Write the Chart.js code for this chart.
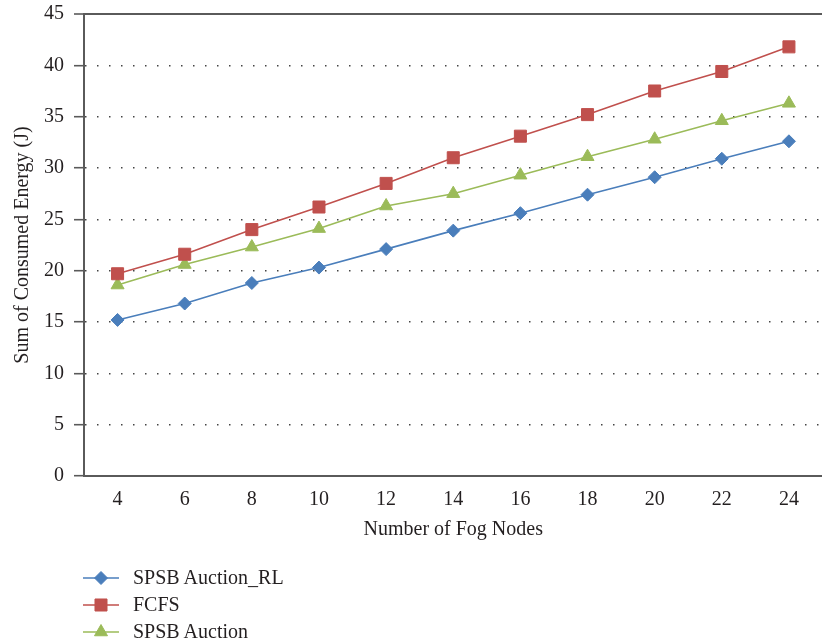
<!DOCTYPE html>
<html>
<head>
<meta charset="utf-8">
<title>Sum of Consumed Energy vs Number of Fog Nodes</title>
<script src="https://cdn.jsdelivr.net/npm/chart.js@4/dist/chart.umd.min.js"></script>
<style>
  html, body { margin: 0; padding: 0; background: #ffffff; overflow: hidden; }
  #wrap { position: relative; width: 822px; height: 644px; overflow: hidden; }
  #plot { position: absolute; left: 0; top: 0; }
  #legend { position: absolute; left: 83px; top: 564px; font-family: "Liberation Serif", "Times New Roman", serif; font-size: 20px; color: #231f20; }
  .item { display: flex; align-items: center; height: 27px; }
  .item canvas { width: 36px; height: 16px; margin-right: 14px; }
</style>
</head>
<body>
<div id="wrap">
  <canvas id="plot" width="832" height="560"></canvas>
  <div id="legend"></div>
</div>
<script>
// Number of fog nodes (x categories)
const nodeCounts = ['4', '6', '8', '10', '12', '14', '16', '18', '20', '22', '24'];

// Sum of consumed energy (J) per scheduling scheme
const rlEnergy      = [15.2, 16.8, 18.8, 20.3, 22.1, 23.9, 25.6, 27.4, 29.1, 30.9, 32.6];
const fcfsEnergy    = [19.7, 21.6, 24.0, 26.2, 28.5, 31.0, 33.1, 35.2, 37.5, 39.4, 41.8];
const auctionEnergy = [18.6, 20.6, 22.3, 24.1, 26.3, 27.5, 29.3, 31.1, 32.8, 34.6, 36.3];

// Series names
const seriesNames = ['SPSB Auction_RL', 'FCFS', 'SPSB Auction'];

// Y axis range
const yMin = 0, yMax = 45, yStep = 5;

const AXIS = '#5a5a5a';
const TEXT = '#231f20';
const FONT = '"Liberation Serif", "Times New Roman", serif';

const series = [
  { label: seriesNames[0], data: rlEnergy,      color: '#4a7ebb', style: 'rectRot',  radius: 6.5 },
  { label: seriesNames[1], data: fcfsEnergy,    color: '#c0504d', style: 'rect',     radius: 8.5 },
  { label: seriesNames[2], data: auctionEnergy, color: '#9bbb59', style: 'triangle', radius: 7.5 }
];

const chart = new Chart(document.getElementById('plot'), {
  type: 'line',
  data: {
    labels: nodeCounts,
    datasets: series.map(s => ({
      label: s.label,
      data: s.data,
      borderColor: s.color,
      backgroundColor: s.color,
      borderWidth: 1.6,
      pointStyle: s.style,
      pointRadius: s.radius,
      pointBorderWidth: 1,
      pointBackgroundColor: s.color,
      pointBorderColor: s.color,
      tension: 0,
      fill: false
    }))
  },
  options: {
    responsive: false,
    animation: false,
    layout: { padding: { left: 0, top: 14, right: 0, bottom: 17 } },
    plugins: {
      legend: { display: false },
      tooltip: { enabled: false }
    },
    scales: {
      x: {
        type: 'category',
        offset: true,
        grid: { display: false, drawTicks: false },
        border: { display: true, color: AXIS, width: 2 },
        ticks: { color: TEXT, font: { family: FONT, size: 20 }, padding: 12, maxRotation: 0 },
        title: {
          display: true, text: 'Number of Fog Nodes', color: TEXT,
          font: { family: FONT, size: 20 }, padding: { top: 0, bottom: 1 }
        },
        afterFit: (scale) => { scale.height = 67; scale.paddingLeft = 0; scale.paddingRight = 0; }
      },
      y: {
        min: yMin, max: yMax,
        ticks: { stepSize: yStep, color: TEXT, font: { family: FONT, size: 20 }, padding: 10 },
        grid: {
          drawTicks: true,
          tickLength: 10,
          tickColor: AXIS,
          tickWidth: 1.6,
          color: (c) => {
            if (!c.tick) return AXIS;
            if (c.tick.value === yMax) return AXIS;
            if (c.tick.value === yMin) return 'rgba(0,0,0,0)';
            return '#444444';
          },
          lineWidth: (c) => (c.tick && c.tick.value === yMax) ? 2 : 1.4
        },
        border: {
          display: true, color: AXIS, width: 2,
          dash: (c) => (c.tick && c.tick.value !== yMax) ? [1.5, 10.5] : []
        },
        title: {
          display: true, text: 'Sum of Consumed Energy (J)', color: TEXT,
          font: { family: FONT, size: 20 }, padding: { top: 11, bottom: 0 }
        },
        afterFit: (scale) => { scale.width = 84; scale.paddingTop = 0; scale.paddingBottom = 0; }
      }
    }
  }
});

// Legend: one row per series, sample line with its marker, then the name
(function buildLegend() {
  const host = document.getElementById('legend');
  chart.data.datasets.forEach((ds) => {
    const row = document.createElement('div');
    row.className = 'item';
    const c = document.createElement('canvas');
    c.width = 36; c.height = 16;
    const g = c.getContext('2d');
    g.strokeStyle = ds.borderColor;
    g.lineWidth = 1.6;
    g.beginPath(); g.moveTo(0, 8); g.lineTo(36, 8); g.stroke();
    g.fillStyle = ds.pointBackgroundColor;
    g.strokeStyle = ds.pointBorderColor;
    g.lineWidth = 1;
    Chart.helpers.drawPoint(g, { pointStyle: ds.pointStyle, radius: ds.pointRadius, rotation: 0, borderWidth: 1 }, 18, 8);
    const t = document.createElement('span');
    t.textContent = ds.label;
    row.appendChild(c);
    row.appendChild(t);
    host.appendChild(row);
  });
})();
</script>
</body>
</html>
